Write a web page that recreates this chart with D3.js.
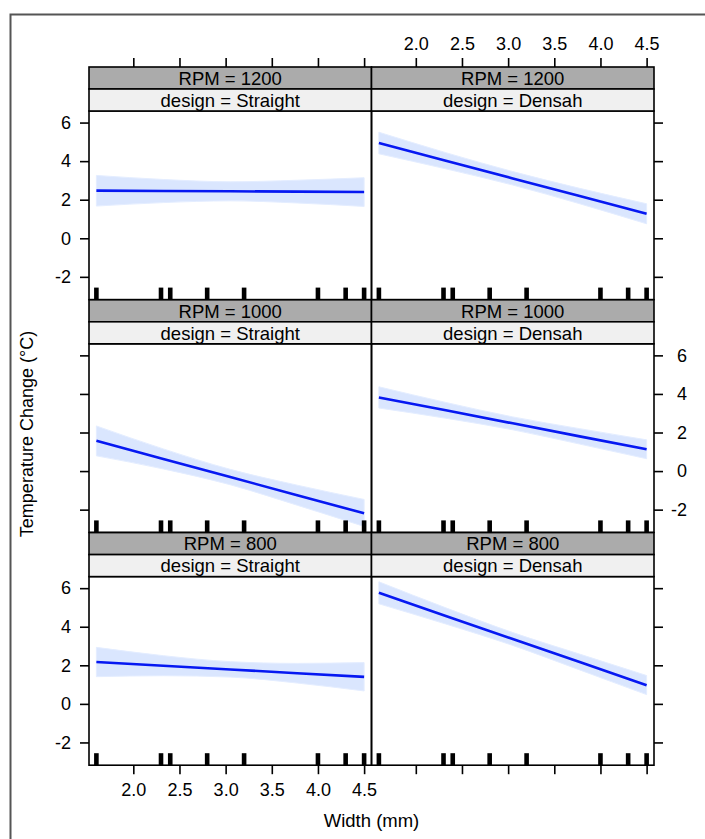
<!DOCTYPE html>
<html>
<head>
<meta charset="utf-8">
<script src="https://cdn.jsdelivr.net/npm/d3@7"></script>
<style>
  body { margin: 0; background: #fff; }
  svg text { font-family: "Liberation Sans", Arial, Helvetica, sans-serif; fill: #000; }
</style>
</head>
<body>
<svg class="plot" width="705" height="839"></svg>
<script>
// facets
var rpmLevels = ["1200", "1000", "800"],
    designs = ["Straight", "Densah"];

// widths where the effect was evaluated, and the observed widths (rug)
var widthGrid = [1.6, 2.325, 3.05, 3.775, 4.5];
var rugWidths = [1.6, 2.3, 2.4, 2.8, 3.2, 4.0, 4.3, 4.5];

var xTicks = [2.0, 2.5, 3.0, 3.5, 4.0, 4.5],
    yTicks = [-2, 0, 2, 4, 6];

// fitted temperature change and confidence band
var fit1200Straight = [2.47, 2.45, 2.435, 2.42, 2.40],
    lo1200Straight  = [1.67, 1.85, 1.94, 1.83, 1.65],
    hi1200Straight  = [3.26, 3.05, 2.93, 3.01, 3.14];

var fit1200Densah = [4.94, 4.02, 3.105, 2.19, 1.27],
    lo1200Densah  = [4.38, 3.60, 2.76, 1.79, 0.75],
    hi1200Densah  = [5.50, 4.44, 3.46, 2.59, 1.79];

var fit1000Straight = [1.57, 0.63, -0.31, -1.25, -2.19],
    lo1000Straight  = [0.79, 0.11, -0.71, -1.77, -2.87],
    hi1000Straight  = [2.34, 1.15, 0.09, -0.73, -1.47];

var fit1000Densah = [3.82, 3.15, 2.475, 1.80, 1.13],
    lo1000Densah  = [3.27, 2.74, 2.14, 1.40, 0.64],
    hi1000Densah  = [4.37, 3.56, 2.81, 2.20, 1.62];

var fit800Straight = [2.17, 1.98, 1.785, 1.59, 1.40],
    lo800Straight  = [1.41, 1.46, 1.39, 1.08, 0.67],
    hi800Straight  = [2.93, 2.50, 2.19, 2.10, 2.14];

var fit800Densah = [5.76, 4.56, 3.365, 2.17, 0.97],
    lo800Densah  = [5.19, 4.14, 3.03, 1.76, 0.48],
    hi800Densah  = [6.33, 4.98, 3.70, 2.58, 1.47];

var panelData = {
  "1200 Straight": [fit1200Straight, lo1200Straight, hi1200Straight],
  "1200 Densah":   [fit1200Densah, lo1200Densah, hi1200Densah],
  "1000 Straight": [fit1000Straight, lo1000Straight, hi1000Straight],
  "1000 Densah":   [fit1000Densah, lo1000Densah, hi1000Densah],
  "800 Straight":  [fit800Straight, lo800Straight, hi800Straight],
  "800 Densah":    [fit800Densah, lo800Densah, hi800Densah]
};

var svg = d3.select(".plot");

//layout
var panelLeft = 89, colW = 282.5,
    panelTop = 67, rowStep = 232.8,
    stripH = 22, plotH = 188.6,
    tickLen = 9;

//outer frame of the screenshot
svg.append("path")
    .attr("d", "M10.5,839 L10.5,14.5 L705,14.5")
    .attr("fill", "none")
    .attr("stroke", "#555")
    .attr("stroke-width", 2);

var xScales = designs.map(function(d, c) {
  return d3.scaleLinear().domain([1.52, 4.58])
      .range([panelLeft + c * colW, panelLeft + (c + 1) * colW]);
});

rpmLevels.forEach(function(rpm, r) {
  var rowTop = panelTop + r * rowStep,
      plotTop = rowTop + 2 * stripH,
      plotBottom = plotTop + plotH;

  var y = d3.scaleLinear().domain([-3.18, 6.6]).range([plotBottom, plotTop]);

  designs.forEach(function(design, c) {
    var x = xScales[c],
        x0 = x.range()[0], x1 = x.range()[1],
        vals = panelData[rpm + " " + design];

    var rows = widthGrid.map(function(w, i) {
      return {w: w, fit: vals[0][i], lo: vals[1][i], hi: vals[2][i]};
    });

    var g = svg.append("g");

    var clipId = "clip-" + r + "-" + c;
    g.append("clipPath").attr("id", clipId)
      .append("rect")
        .attr("x", x0).attr("y", plotTop)
        .attr("width", x1 - x0).attr("height", plotH);

    var inner = g.append("g").attr("clip-path", "url(#" + clipId + ")");

    //confidence band
    inner.append("path")
        .datum(rows)
        .attr("fill", "#dae6fe")
        .attr("stroke", "#e4edff")
        .attr("stroke-width", 1)
        .attr("d", d3.area()
            .curve(d3.curveMonotoneX)
            .x(function(d) { return x(d.w); })
            .y0(function(d) { return y(d.lo); })
            .y1(function(d) { return y(d.hi); }));

    //fitted line
    inner.append("path")
        .datum(rows)
        .attr("fill", "none")
        .attr("stroke", "#0618f2")
        .attr("stroke-width", 2.6)
        .attr("d", d3.line()
            .x(function(d) { return x(d.w); })
            .y(function(d) { return y(d.fit); }));

    //rug
    inner.selectAll(".rug")
        .data(rugWidths)
        .enter().append("rect")
        .attr("x", function(d) { return x(d) - 2.3; })
        .attr("y", plotBottom - 12)
        .attr("width", 4.6)
        .attr("height", 12)
        .attr("fill", "#000");

    //panel border
    g.append("rect")
        .attr("x", x0).attr("y", plotTop)
        .attr("width", x1 - x0).attr("height", plotH)
        .attr("fill", "none").attr("stroke", "#000").attr("stroke-width", 1.6);

    //strips
    var strips = [
      {label: "RPM = " + rpm, fill: "#ababab", y: rowTop},
      {label: "design = " + design, fill: "#f0f0f0", y: rowTop + stripH}
    ];
    strips.forEach(function(s) {
      g.append("rect")
          .attr("x", x0).attr("y", s.y)
          .attr("width", x1 - x0).attr("height", stripH)
          .attr("fill", s.fill)
          .attr("stroke", "#000").attr("stroke-width", 1.6);
      g.append("text")
          .attr("x", (x0 + x1) / 2)
          .attr("y", s.y + 17.8)
          .style("font-size", "18.5px")
          .style("text-anchor", "middle")
          .text(s.label);
    });

    //x axes on the outer rows
    if (r === 0) {
      g.append("g")
          .attr("class", "axis")
          .attr("transform", "translate(0," + rowTop + ")")
          .call(d3.axisTop(x).tickValues(xTicks).tickSize(tickLen).tickPadding(8)
              .tickFormat(c === 1 ? d3.format(".1f") : ""));
    }
    if (r === rpmLevels.length - 1) {
      g.append("g")
          .attr("class", "axis")
          .attr("transform", "translate(0," + plotBottom + ")")
          .call(d3.axisBottom(x).tickValues(xTicks).tickSize(tickLen).tickPadding(9)
              .tickFormat(c === 0 ? d3.format(".1f") : ""));
    }

    //y axes on the outer columns, labels alternate between rows
    if (c === 0) {
      g.append("g")
          .attr("class", "axis")
          .attr("transform", "translate(" + x0 + ",0)")
          .call(d3.axisLeft(y).tickValues(yTicks).tickSize(tickLen).tickPadding(9)
              .tickFormat(r % 2 === 0 ? d3.format("d") : ""));
    }
    if (c === designs.length - 1) {
      g.append("g")
          .attr("class", "axis axis--right")
          .attr("transform", "translate(" + x1 + ",0)")
          .call(d3.axisRight(y).tickValues(yTicks).tickSize(tickLen)
              .tickFormat(r % 2 === 1 ? d3.format("d") : ""));
    }
  });
});

//axis styling
svg.selectAll(".axis .domain").remove();
svg.selectAll(".axis line").attr("stroke", "#000").attr("stroke-width", 1.6);
svg.selectAll(".axis text")
    .style("font-size", "18px")
    .style("font-family", "'Liberation Sans', Arial, sans-serif")
    .attr("fill", "#000");
svg.selectAll(".axis--right text")
    .attr("x", 33)
    .style("text-anchor", "end");
svg.selectAll(".axis text").text(function() {
  return d3.select(this).text().replace("\u2212", "-");
});

//axis titles
svg.append("text")
    .attr("x", 371.5)
    .attr("y", 827)
    .style("font-size", "18.5px")
    .style("text-anchor", "middle")
    .text("Width (mm)");

svg.append("text")
    .attr("transform", "translate(33,434) rotate(-90)")
    .style("font-size", "18px")
    .style("text-anchor", "middle")
    .text("Temperature Change (°C)");
</script>
</body>
</html>
